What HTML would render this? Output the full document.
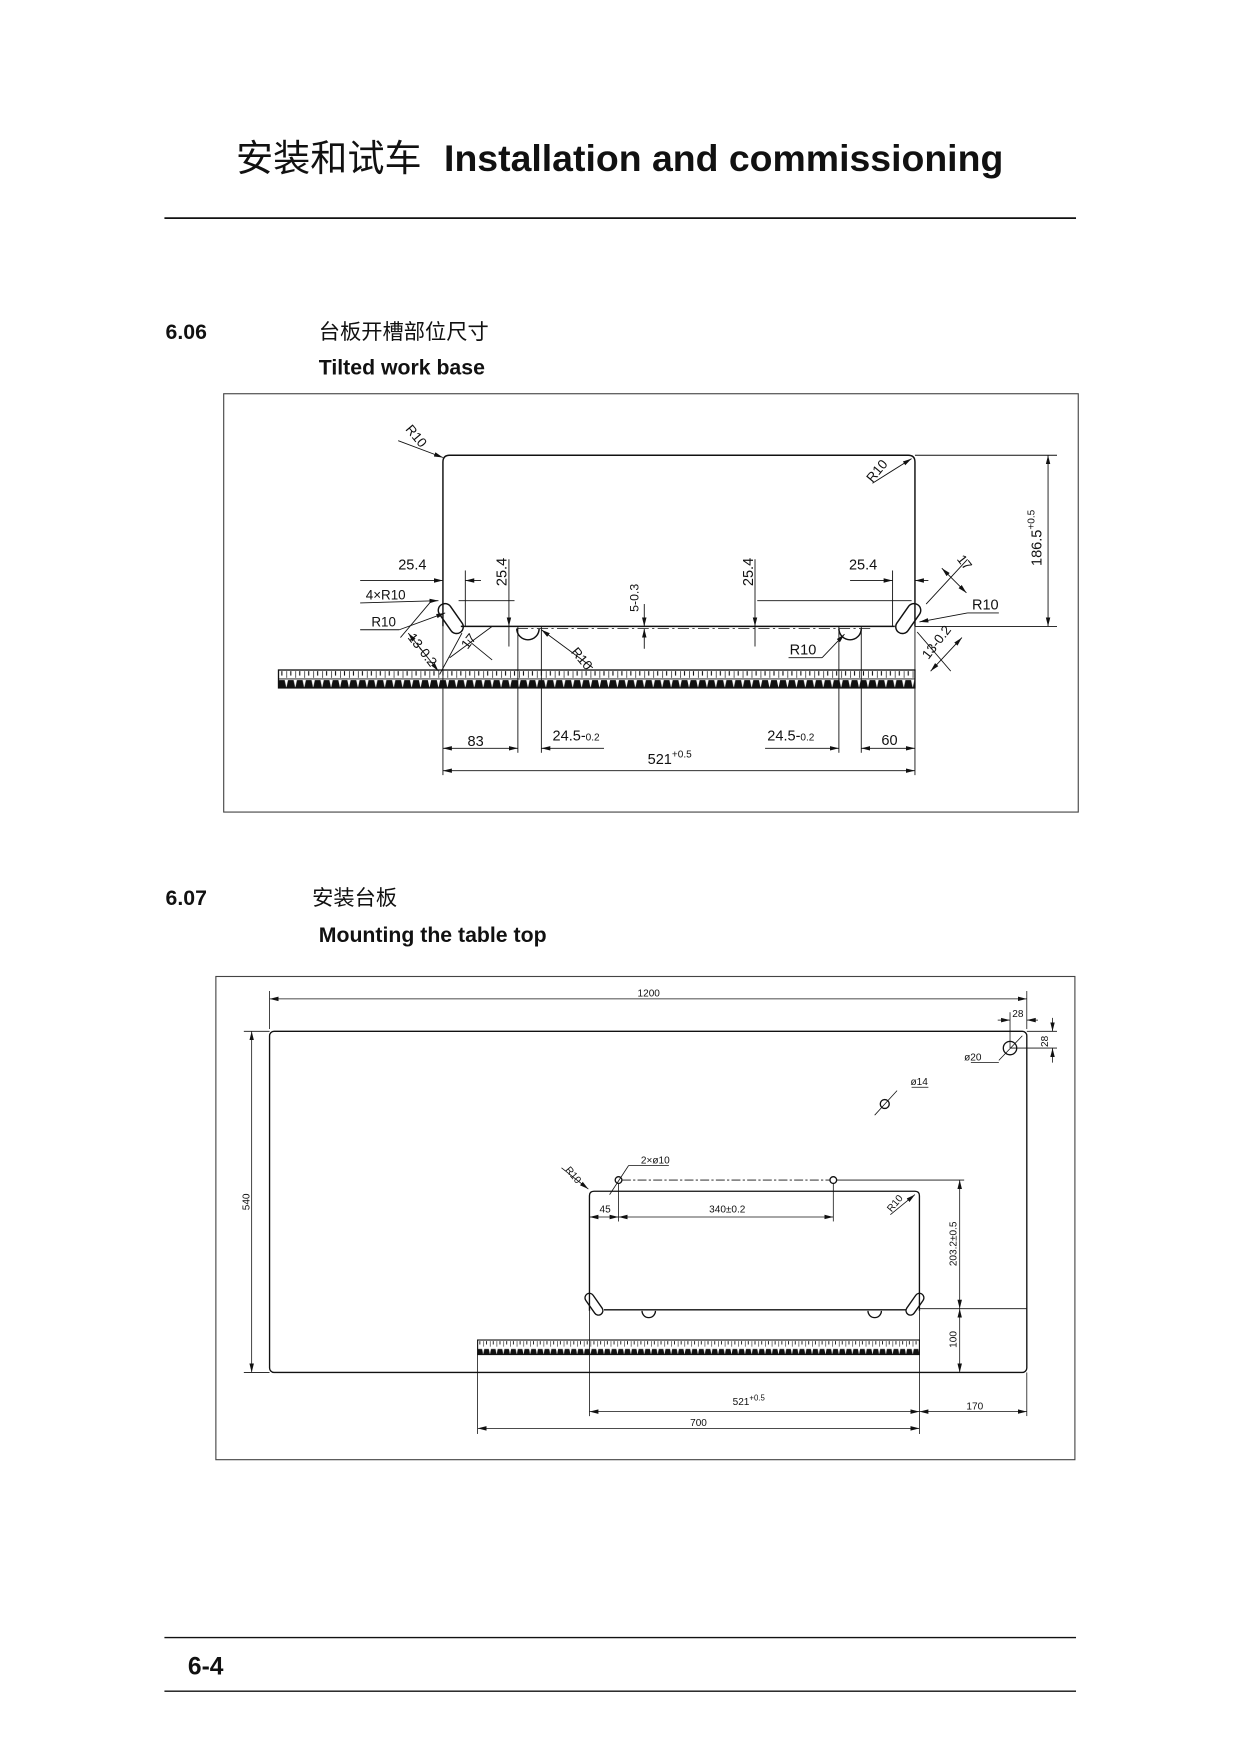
<!DOCTYPE html>
<html><head><meta charset="utf-8"><style>
html,body{margin:0;padding:0;background:#fff}
svg{display:block}
text{font-family:"Liberation Sans","Noto Sans CJK SC",sans-serif}
.d{font-family:"Liberation Sans Narrow","Liberation Sans",sans-serif;font-size:13px;fill:#111}
</style></head><body>
<svg width="1241" height="1755" viewBox="0 0 1109.5 1569" xmlns="http://www.w3.org/2000/svg">
<defs>
<pattern id="rul" x="0" y="599" width="8" height="16" patternUnits="userSpaceOnUse">
<line x1="0" y1="1" x2="0" y2="7" stroke="#111" stroke-width="1.2"/>
<line x1="4" y1="1" x2="4" y2="5" stroke="#111" stroke-width="1"/>
<path d="M0 16 L1.5 9 L6.5 9 L8 16 Z" fill="#111"/>
</pattern>
<pattern id="rul2" x="0" y="1198" width="6" height="13" patternUnits="userSpaceOnUse">
<line x1="0" y1="1" x2="0" y2="6" stroke="#111" stroke-width="1"/>
<line x1="3" y1="1" x2="3" y2="4" stroke="#111" stroke-width="0.8"/>
<path d="M0 13 L1 8 L5 8 L6 13 Z" fill="#111"/>
</pattern>
<marker id="a" markerWidth="8" markerHeight="6" refX="8" refY="3" orient="auto-start-reverse" markerUnits="userSpaceOnUse"><path d="M0 1 L8 3 L0 5z" fill="#111"/></marker>
</defs>
<g fill="none" stroke="#111">
<line x1="147" y1="195" x2="962" y2="195" stroke-width="1.5"/>
<line x1="147" y1="1464" x2="962" y2="1464" stroke-width="1.2"/>
<line x1="147" y1="1512" x2="962" y2="1512" stroke-width="1.2"/>
<rect x="200" y="352" width="764" height="374" stroke="#444" stroke-width="1"/>
<rect x="193" y="873" width="768" height="432" stroke="#444" stroke-width="1"/>
</g>
<text x="211" y="153" font-size="33" fill="#111" font-family="Noto Sans CJK SC" textLength="166" lengthAdjust="spacingAndGlyphs">安装和试车</text>
<text x="397" y="153" font-size="33" font-weight="bold" fill="#111" textLength="500" lengthAdjust="spacingAndGlyphs">Installation and commissioning</text>
<text x="148" y="303" font-size="19" font-weight="bold" fill="#111">6.06</text>
<text x="285" y="303" font-size="19" fill="#111" font-family="Noto Sans CJK SC">台板开槽部位尺寸</text>
<text x="285" y="335" font-size="19" font-weight="bold" fill="#111">Tilted work base</text>
<text x="148" y="809" font-size="19" font-weight="bold" fill="#111">6.07</text>
<text x="279" y="809" font-size="19" fill="#111" font-family="Noto Sans CJK SC">安装台板</text>
<text x="285" y="842" font-size="19" font-weight="bold" fill="#111">Mounting the table top</text>
<text x="168" y="1497" font-size="22" font-weight="bold" fill="#111">6-4</text>

<!-- Drawing 1 -->
<g fill="none" stroke="#111" stroke-width="1.3">
<path d="M396 560 L396 413 Q396 407 402 407 L812 407 Q818 407 818 413 L818 560"/>
<line x1="412" y1="560" x2="800" y2="560"/>
<line x1="462" y1="562" x2="780" y2="562" stroke-width="0.7" stroke-dasharray="10 3 2 3"/>
<path d="M462 562 A10 10 0 0 0 482 562"/>
<path d="M750 562 A10 10 0 0 0 770 562"/>
<rect x="397" y="538" width="12" height="30" rx="6" transform="rotate(-35 403 553)"/>
<rect x="806" y="538" width="12" height="30" rx="6" transform="rotate(35 812 553)"/>
</g>
<rect x="249" y="599" width="569" height="16" fill="url(#rul)" stroke="#111" stroke-width="1.2"/>
<line x1="249" y1="607" x2="818" y2="607" stroke="#111" stroke-width="0.8"/>
<g fill="none" stroke="#111" stroke-width="0.8">
<line x1="818" y1="407" x2="945" y2="407"/><line x1="818" y1="560" x2="945" y2="560"/>
<line x1="937" y1="407" x2="937" y2="560" marker-start="url(#a)" marker-end="url(#a)"/>
<line x1="396" y1="560" x2="396" y2="693"/><line x1="463" y1="560" x2="463" y2="673"/>
<line x1="484" y1="560" x2="484" y2="673"/><line x1="750" y1="560" x2="750" y2="673"/>
<line x1="770" y1="560" x2="770" y2="673"/><line x1="818" y1="560" x2="818" y2="693"/>
<line x1="396" y1="669" x2="463" y2="669" marker-start="url(#a)" marker-end="url(#a)"/>
<line x1="484" y1="669" x2="540" y2="669" marker-start="url(#a)"/>
<line x1="684" y1="669" x2="750" y2="669" marker-end="url(#a)"/>
<line x1="770" y1="669" x2="818" y2="669" marker-start="url(#a)" marker-end="url(#a)"/>
<line x1="396" y1="689" x2="818" y2="689" marker-start="url(#a)" marker-end="url(#a)"/>
<line x1="322" y1="519" x2="396" y2="519" marker-end="url(#a)"/>
<line x1="416" y1="519" x2="430" y2="519" marker-start="url(#a)"/>
<line x1="416" y1="510" x2="416" y2="560"/>
<line x1="455" y1="500" x2="455" y2="560" marker-end="url(#a)"/>
<line x1="455" y1="560" x2="455" y2="578"/>
<line x1="410" y1="537" x2="460" y2="537"/>
<line x1="576" y1="540" x2="576" y2="560" marker-end="url(#a)"/>
<line x1="576" y1="562" x2="576" y2="580" marker-start="url(#a)"/>
<line x1="675" y1="500" x2="675" y2="560" marker-end="url(#a)"/>
<line x1="675" y1="560" x2="675" y2="578"/>
<line x1="677" y1="537" x2="815" y2="537"/>
<line x1="760" y1="519" x2="798" y2="519" marker-end="url(#a)"/>
<line x1="818" y1="519" x2="830" y2="519" marker-start="url(#a)"/>
<line x1="798" y1="510" x2="798" y2="560"/>
<line x1="322" y1="539" x2="392" y2="537" marker-end="url(#a)"/>
<line x1="322" y1="563" x2="357" y2="563"/><line x1="357" y1="563" x2="398" y2="548" marker-end="url(#a)"/>
<line x1="356" y1="394" x2="396" y2="409" marker-end="url(#a)"/>
<line x1="780" y1="432" x2="815" y2="410" marker-end="url(#a)"/>
<line x1="530" y1="597" x2="484" y2="563" marker-end="url(#a)"/>
<line x1="705" y1="588" x2="735" y2="588"/><line x1="735" y1="588" x2="755" y2="567" marker-end="url(#a)"/>
<line x1="893" y1="548" x2="865" y2="548"/><line x1="865" y1="548" x2="822" y2="556" marker-end="url(#a)"/>
<line x1="385" y1="538" x2="358" y2="570"/><line x1="413" y1="566" x2="393" y2="603"/>
<line x1="365" y1="566" x2="392" y2="600" marker-start="url(#a)" marker-end="url(#a)"/>
<line x1="418" y1="572" x2="440" y2="590"/><line x1="402" y1="588" x2="440" y2="560" />
<line x1="828" y1="540" x2="865" y2="500"/><line x1="842" y1="508" x2="864" y2="530" marker-start="url(#a)" marker-end="url(#a)"/>
<line x1="820" y1="565" x2="850" y2="600"/><line x1="832" y1="600" x2="860" y2="570" marker-start="url(#a)" marker-end="url(#a)"/>
</g>
<g class="d">
<text x="356" y="509">25.4</text><text x="759" y="509">25.4</text>
<text x="327" y="536" font-size="12">4×R10</text><text x="332" y="560" font-size="12">R10</text>
<text x="418" y="667">83</text><text x="494" y="662">24.5-<tspan font-size="9">0.2</tspan></text>
<text x="686" y="662">24.5-<tspan font-size="9">0.2</tspan></text><text x="788" y="666">60</text>
<text x="579" y="683">521<tspan font-size="9" dy="-6">+0.5</tspan></text>
<text x="706" y="585">R10</text><text x="869" y="545">R10</text>
<text transform="translate(453,524) rotate(-90)">25.4</text>
<text transform="translate(673,524) rotate(-90)">25.4</text>
<text transform="translate(571,547) rotate(-90)" font-size="11">5-0.3</text>
<text transform="translate(931,506) rotate(-90)">186.5<tspan font-size="9" dy="-6">+0.5</tspan></text>
<text transform="translate(362,384) rotate(50)" font-size="12">R10</text>
<text transform="translate(780,432) rotate(-50)" font-size="12">R10</text>
<text transform="translate(510,583) rotate(50)" font-size="12">R10</text>
<text transform="translate(364,570) rotate(52)" font-size="12">13-0.2</text>
<text transform="translate(418,581) rotate(-52)" font-size="12">17</text>
<text transform="translate(855,500) rotate(52)" font-size="12">17</text>
<text transform="translate(830,590) rotate(-52)" font-size="12">13-0.2</text>
</g>

<!-- Drawing 2 -->
<g fill="none" stroke="#111" stroke-width="1.2">
<rect x="241" y="922" width="677" height="305" rx="4"/>
<path d="M527 1172 L527 1069 Q527 1065 531 1065 L818 1065 Q822 1065 822 1069 L822 1172"/>
<line x1="540" y1="1171" x2="810" y2="1171"/>
<path d="M574 1172 A6 6 0 0 0 586 1172"/><path d="M776 1172 A6 6 0 0 0 788 1172"/>
<rect x="527" y="1155" width="8" height="22" rx="4" transform="rotate(-35 531 1166)"/>
<rect x="814" y="1155" width="8" height="22" rx="4" transform="rotate(35 818 1166)"/>
<circle cx="903" cy="937" r="6"/><circle cx="791" cy="987" r="4"/>
<circle cx="553" cy="1055" r="3"/><circle cx="745" cy="1055" r="3"/>
</g>
<rect x="427" y="1198" width="395" height="13" fill="url(#rul2)" stroke="#111" stroke-width="1"/>
<g fill="none" stroke="#111" stroke-width="0.7">
<line x1="556" y1="1055" x2="742" y2="1055" stroke-dasharray="8 2 2 2"/>
<line x1="748" y1="1055" x2="862" y2="1055"/>
<line x1="822" y1="1170" x2="918" y2="1170"/>
<line x1="241" y1="886" x2="241" y2="920"/><line x1="918" y1="886" x2="918" y2="920"/>
<line x1="241" y1="893" x2="918" y2="893" marker-start="url(#a)" marker-end="url(#a)"/>
<line x1="218" y1="922" x2="241" y2="922"/><line x1="218" y1="1227" x2="241" y2="1227"/>
<line x1="225" y1="922" x2="225" y2="1227" marker-start="url(#a)" marker-end="url(#a)"/>
<line x1="892" y1="912" x2="903" y2="912" marker-end="url(#a)"/><line x1="918" y1="912" x2="928" y2="912" marker-start="url(#a)"/>
<line x1="903" y1="905" x2="903" y2="937"/>
<line x1="918" y1="922" x2="945" y2="922"/><line x1="903" y1="937" x2="945" y2="937"/>
<line x1="941" y1="910" x2="941" y2="922" marker-end="url(#a)"/><line x1="941" y1="937" x2="941" y2="950" marker-start="url(#a)"/>
<line x1="893" y1="948" x2="914" y2="926"/><line x1="868" y1="950" x2="893" y2="950"/>
<line x1="782" y1="997" x2="802" y2="975"/><line x1="815" y1="972" x2="830" y2="972"/>
<line x1="545" y1="1068" x2="562" y2="1042"/><line x1="562" y1="1042" x2="598" y2="1042"/>
<line x1="502" y1="1044" x2="526" y2="1063" marker-end="url(#a)"/>
<line x1="796" y1="1086" x2="818" y2="1068" marker-end="url(#a)"/>
<line x1="553" y1="1058" x2="553" y2="1092"/><line x1="745" y1="1058" x2="745" y2="1092"/>
<line x1="527" y1="1088" x2="553" y2="1088" marker-start="url(#a)" marker-end="url(#a)"/>
<line x1="553" y1="1088" x2="745" y2="1088" marker-start="url(#a)" marker-end="url(#a)"/>
<line x1="858" y1="1055" x2="858" y2="1170" marker-start="url(#a)" marker-end="url(#a)"/>
<line x1="858" y1="1170" x2="858" y2="1227" marker-start="url(#a)" marker-end="url(#a)"/>
<line x1="822" y1="1227" x2="862" y2="1227"/>
<line x1="527" y1="1172" x2="527" y2="1266"/><line x1="822" y1="1172" x2="822" y2="1282"/>
<line x1="427" y1="1210" x2="427" y2="1282"/><line x1="918" y1="1227" x2="918" y2="1266"/>
<line x1="527" y1="1262" x2="822" y2="1262" marker-start="url(#a)" marker-end="url(#a)"/>
<line x1="822" y1="1262" x2="918" y2="1262" marker-start="url(#a)" marker-end="url(#a)"/>
<line x1="427" y1="1277" x2="822" y2="1277" marker-start="url(#a)" marker-end="url(#a)"/>
</g>
<g class="d" style="font-size:9px">
<text x="570" y="891">1200</text><text x="905" y="909">28</text>
<text transform="translate(937,936) rotate(-90)">28</text>
<text transform="translate(223,1082) rotate(-90)">540</text>
<text x="862" y="948">ø20</text><text x="814" y="970">ø14</text>
<text x="573" y="1040">2×ø10</text>
<text transform="translate(505,1046) rotate(50)">R10</text>
<text transform="translate(797,1084) rotate(-50)">R10</text>
<text x="536" y="1084">45</text><text x="634" y="1084">340±0.2</text>
<text transform="translate(855,1132) rotate(-90)">203.2±0.5</text>
<text transform="translate(855,1205) rotate(-90)">100</text>
<text x="655" y="1256">521<tspan font-size="7" dy="-4">+0.5</tspan></text>
<text x="864" y="1260">170</text><text x="617" y="1275">700</text>
</g>
</svg>
</body></html>
